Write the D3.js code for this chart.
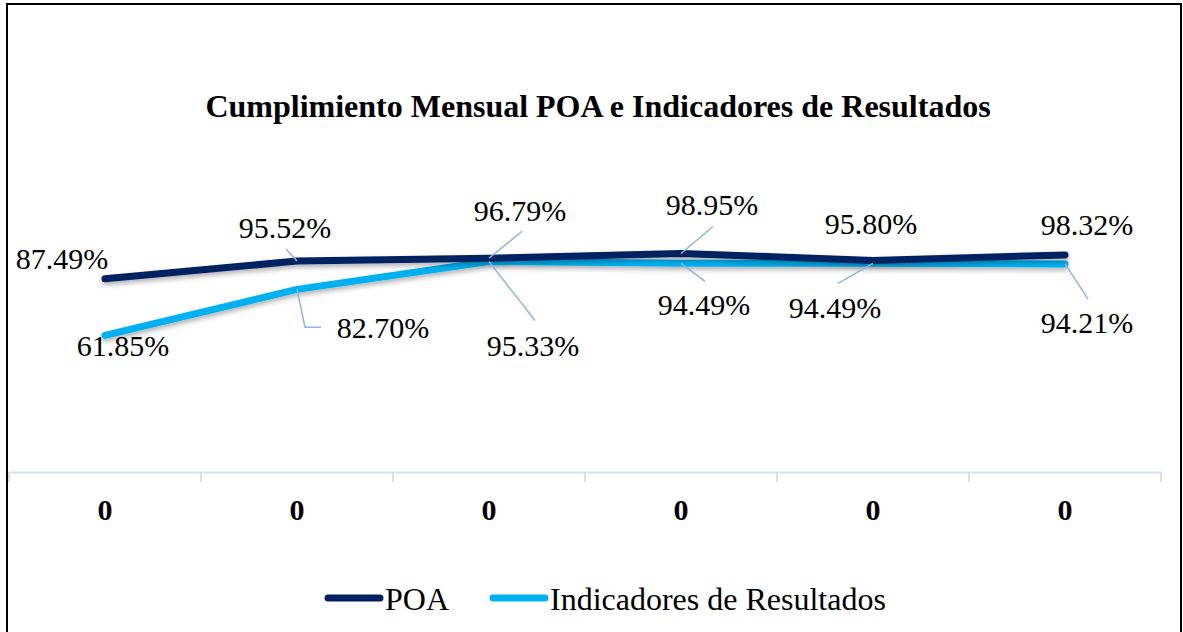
<!DOCTYPE html>
<html>
<head>
<meta charset="utf-8">
<script src="https://cdn.jsdelivr.net/npm/d3@7"></script>
<style>
  body { margin: 0; background: #fff; }
</style>
</head>
<body>
<svg id="chart" width="1183" height="632"></svg>
<script>
var categories = ['0', '0', '0', '0', '0', '0'];
var poa = [87.49, 95.52, 96.79, 98.95, 95.80, 98.32];
var indicadores = [61.85, 82.70, 95.33, 94.49, 94.49, 94.21];
var seriesNames = ['POA', 'Indicadores de Resultados'];
var seriesColors = ['#002060', '#00B0F0'];

var serif = '"Liberation Serif", "Times New Roman", serif';

// where each data label sits relative to its point, and the path of its leader line
var poaLabels = [
  { dx: -43, dy: -10, lead: null },
  { dx: -12, dy: -23, lead: [[-11, -12], [0, 0]] },
  { dx: 31, dy: -37, lead: [[33, -27], [0, 0]] },
  { dx: 31, dy: -38, lead: [[32, -27], [0, 0]] },
  { dx: -2, dy: -26, lead: null },
  { dx: 22, dy: -20, lead: null }
];
var indLabels = [
  { dx: 18, dy: 21, lead: null },
  { dx: 86, dy: 49, lead: [[0, 0], [8, 38], [24, 38]] },
  { dx: 44, dy: 95, lead: [[0, 0], [46, 59]] },
  { dx: 23, dy: 52, lead: [[0, 0], [24, 18]] },
  { dx: -38, dy: 55, lead: [[0, 0], [-35, 20]] },
  { dx: 22, dy: 69, lead: [[0, 0], [23, 35]] }
];

var svg = d3.select('#chart');

var x = d3.scaleBand()
  .domain(d3.range(categories.length))
  .range([9, 1161]);

var y = d3.scaleLinear()
  .domain([0, 120])
  .range([472, 207]);

var defs = svg.append('defs');
var shadow = defs.append('filter')
  .attr('id', 'shadow')
  .attr('x', '-5%').attr('y', '-50%')
  .attr('width', '110%').attr('height', '200%');
shadow.append('feDropShadow')
  .attr('dx', 0).attr('dy', 3)
  .attr('stdDeviation', 2.5)
  .attr('flood-color', '#000')
  .attr('flood-opacity', 0.3);

// frame
svg.append('rect')
  .attr('x', 7).attr('y', 4)
  .attr('width', 1174).attr('height', 640)
  .attr('fill', 'none')
  .attr('stroke', '#000')
  .attr('stroke-width', 2);

svg.append('text')
  .attr('x', 598).attr('y', 117)
  .attr('text-anchor', 'middle')
  .style('font-family', serif)
  .style('font-size', '32px')
  .style('font-weight', 'bold')
  .text('Cumplimiento Mensual POA e Indicadores de Resultados');

// category axis
var axis = svg.append('g')
  .attr('transform', 'translate(0,472)')
  .call(d3.axisBottom(x).tickSizeOuter(0).tickFormat(function(i) { return categories[i]; }));
axis.select('.domain').attr('stroke', '#D6E2F3').attr('stroke-width', 2);
axis.selectAll('.tick line').remove();
axis.selectAll('.tick text')
  .attr('y', 48)
  .attr('dy', null)
  .attr('fill', '#000')
  .style('font-family', serif)
  .style('font-size', '30px')
  .style('font-weight', 'bold');

var edges = d3.range(categories.length + 1).map(function(i) {
  return i < categories.length ? x(i) : x(i - 1) + x.bandwidth();
});
axis.selectAll('line.edge')
  .data(edges)
  .join('line')
  .attr('class', 'edge')
  .attr('x1', function(d) { return d; })
  .attr('x2', function(d) { return d; })
  .attr('y1', 0).attr('y2', 10)
  .attr('stroke', '#D6E2F3')
  .attr('stroke-width', 2);

var line = d3.line()
  .x(function(d, i) { return x(i) + x.bandwidth() / 2; })
  .y(function(d) { return y(d); });

[indicadores, poa].forEach(function(values) {
  var k = values === poa ? 0 : 1;
  svg.append('path')
    .datum(values)
    .attr('d', line)
    .attr('fill', 'none')
    .attr('stroke', seriesColors[k])
    .attr('stroke-width', 7)
    .attr('stroke-linecap', 'round')
    .attr('stroke-linejoin', 'round')
    .attr('filter', 'url(#shadow)');
});

function drawLabels(values, layout, cls) {
  var g = svg.append('g').attr('class', cls);
  values.forEach(function(v, i) {
    var px = x(i) + x.bandwidth() / 2;
    var py = y(v);
    var lay = layout[i];
    if (lay.lead) {
      g.append('polyline')
        .attr('points', lay.lead.map(function(p) { return (px + p[0]) + ',' + (py + p[1]); }).join(' '))
        .attr('fill', 'none')
        .attr('stroke', '#8EB4E3')
        .attr('stroke-width', 1.5);
    }
    g.append('text')
      .attr('x', px + lay.dx)
      .attr('y', py + lay.dy)
      .attr('text-anchor', 'middle')
      .style('font-family', serif)
      .style('font-size', '30px')
      .text(v.toFixed(2) + '%');
  });
}
drawLabels(poa, poaLabels, 'poa-labels');
drawLabels(indicadores, indLabels, 'ind-labels');

// legend
var legend = svg.append('g').attr('transform', 'translate(0,598)');
var legendX = [328, 493];
seriesNames.forEach(function(name, k) {
  legend.append('line')
    .attr('x1', legendX[k]).attr('x2', legendX[k] + 52)
    .attr('y1', 0).attr('y2', 0)
    .attr('stroke', seriesColors[k])
    .attr('stroke-width', 7)
    .attr('stroke-linecap', 'round');
  legend.append('text')
    .attr('x', legendX[k] + 57)
    .attr('y', 12)
    .style('font-family', serif)
    .style('font-size', '32px')
    .text(name);
});
</script>
</body>
</html>
